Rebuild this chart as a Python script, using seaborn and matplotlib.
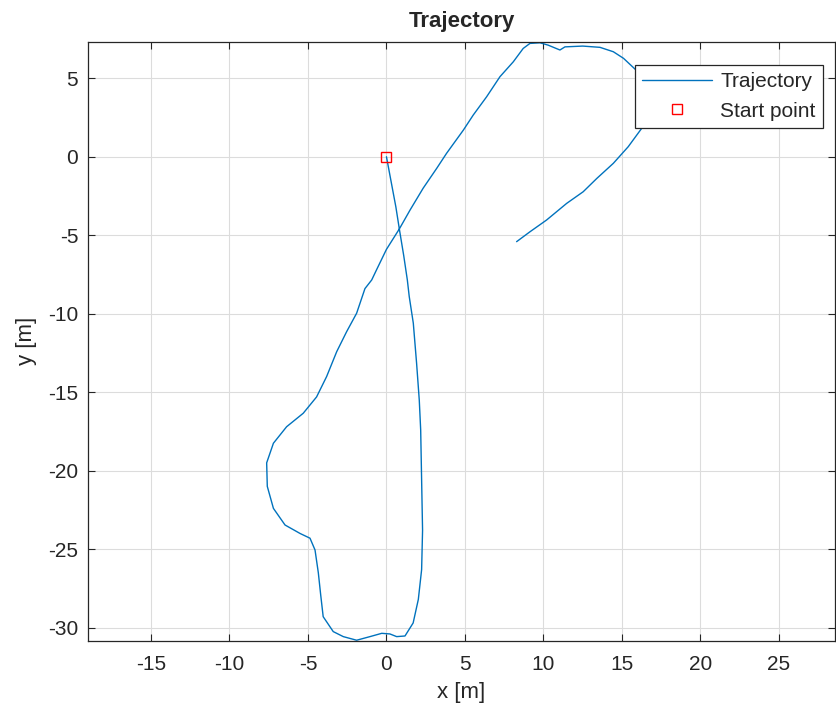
import numpy as np
import pandas as pd
import matplotlib
matplotlib.use("Agg")
import matplotlib.pyplot as plt
import seaborn as sns

# trajectory points (metres)
traj_x = [0.0, 0.3, 0.6, 0.82, 1.1, 1.33, 1.45, 1.71, 1.92, 2.09, 2.18, 2.24, 2.3, 2.24,
          2.03, 1.7, 1.18, 0.65, 0.22, -0.3, -1.05, -1.9, -2.75, -3.39, -4.03, -4.19,
          -4.34, -4.55, -4.87, -5.5, -6.46, -7.2, -7.59, -7.63, -7.2, -6.36, -5.3, -4.45,
          -3.81, -3.17, -2.54, -1.9, -1.37, -0.94, -0.63, 0.0, 0.82, 1.5, 2.34, 3.2, 3.83,
          4.9, 5.53, 6.38, 7.23, 8.08, 8.71, 9.14, 9.78, 10.3, 11.05, 11.37, 12.5, 13.6,
          14.45, 15.1, 15.9, 16.7, 17.3, 17.4, 16.9, 16.25, 15.4, 14.45, 13.4, 12.53,
          11.48, 10.2, 9.14, 8.29]
traj_y = [0.0, -1.6, -3.2, -4.6, -6.3, -7.85, -8.9, -10.6, -13.16, -15.5, -17.4, -20.6,
          -23.8, -26.3, -28.2, -29.7, -30.53, -30.57, -30.4, -30.36, -30.57, -30.8,
          -30.57, -30.25, -29.3, -27.9, -26.5, -25.05, -24.3, -24.0, -23.46, -22.4, -21.0,
          -19.5, -18.25, -17.2, -16.34, -15.3, -14.0, -12.42, -11.15, -9.97, -8.4, -7.85,
          -7.2, -5.9, -4.6, -3.4, -2.0, -0.74, 0.22, 1.7, 2.66, 3.82, 5.1, 6.05, 6.9, 7.22,
          7.26, 7.11, 6.8, 7.0, 7.05, 6.97, 6.69, 6.27, 5.52, 4.8, 4.0, 3.2, 2.5, 1.8, 0.64,
          -0.42, -1.38, -2.23, -2.97, -4.03, -4.78, -5.41]
start_x = [0.0]
start_y = [0.0]

df = pd.DataFrame({"x": traj_x, "y": traj_y})

sns.set_style("ticks")
plt.rcParams["font.family"] = ["Liberation Sans", "DejaVu Sans"]
plt.rcParams["axes.unicode_minus"] = False

fig = plt.figure(figsize=(8.36, 7.14), dpi=100)
ax = fig.add_axes([88 / 836, 1 - 640.7 / 714, 747 / 836, 598.7 / 714])

sns.lineplot(data=df, x="x", y="y", sort=False, estimator=None, ax=ax,
             color="#0072BD", linewidth=1.0, label="Trajectory")
ax.plot(start_x, start_y, linestyle="none", marker="s", markersize=7,
        markerfacecolor="none", markeredgecolor="red", markeredgewidth=1.0,
        label="Start point")

ax.set_xlim(-19.01, 28.57)
ax.set_ylim(-30.83, 7.31)
ax.set_xticks(np.arange(-15, 30, 5))
ax.set_yticks(np.arange(-30, 10, 5))
ax.grid(True, color="#dcdcdc", linewidth=0.8)
ax.set_axisbelow(True)
ax.tick_params(direction="in", top=True, right=True, length=5, width=0.8,
               color="#262626", labelsize=15, labelcolor="#262626")
ax.tick_params(axis="x", pad=10)
ax.tick_params(axis="y", pad=7)
for s in ax.spines.values():
    s.set_color("#262626")
    s.set_linewidth(0.9)

ax.set_xlabel("x [m]", fontsize=16, color="#262626", labelpad=6)
ax.set_ylabel("y [m]", fontsize=16, color="#262626", labelpad=8)
ax.set_title("Trajectory", fontsize=16, fontweight="bold", pad=11)

leg = ax.legend(loc="upper right", bbox_to_anchor=((823 - 88) / 747, (640.7 - 65) / 598.7),
                borderaxespad=0, fontsize=15, frameon=True, fancybox=False, framealpha=1,
                edgecolor="#262626", borderpad=0.35, handlelength=3.35, handletextpad=0.4,
                labelspacing=0.5)
leg.get_frame().set_linewidth(0.9)

fig.savefig("out.png", dpi=100)
